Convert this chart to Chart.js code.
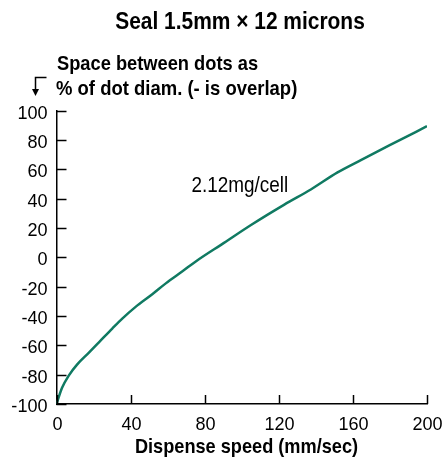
<!DOCTYPE html>
<html>
<head>
<meta charset="utf-8">
<script src="https://cdn.jsdelivr.net/npm/chart.js@4"></script>
<style>
html,body{margin:0;padding:0;background:#fff;}
#wrap{width:442px;height:462px;position:relative;}
</style>
</head>
<body>
<div id="wrap"><canvas id="c" width="442" height="462"></canvas></div>
<script>
const titleText = "Seal 1.5mm \u00d7 12 microns";
const yTitleLines = ["Space between dots as", "% of dot diam. (- is overlap)"];
const xTitleText = "Dispense speed (mm/sec)";
const seriesLabel = "2.12mg/cell";
const xTickValues = [0, 40, 80, 120, 160, 200];
const yTickValues = [-100, -80, -60, -40, -20, 0, 20, 40, 60, 80, 100];
const speeds = [0, 3, 6.7, 11.2, 17.5, 22.9, 30.1, 35.5, 42.7, 51.7, 59, 68, 75, 90.4, 105, 123, 137.3, 151.7, 164.3, 182.3, 200];
const spacing = [-100, -89, -80.5, -73, -65, -58, -48.6, -41.8, -33.8, -25.2, -17.8, -9.6, -3, 9.8, 22, 35.9, 46.2, 57.8, 66.2, 77.9, 89.3];

const FAMILY = '"Liberation Sans", Arial, sans-serif';
const lineColor = 'rgb(16,122,98)';

function txt(ctx, s, x, y, font, sx, align) {
  ctx.save();
  ctx.font = font;
  ctx.textBaseline = 'alphabetic';
  ctx.textAlign = 'left';
  const w = ctx.measureText(s).width * sx;
  let left = x;
  if (align === 'center') left = x - w / 2;
  else if (align === 'right') left = x - w;
  ctx.translate(left, y);
  ctx.scale(sx, 1);
  ctx.fillText(s, 0, 0);
  ctx.restore();
}

const decor = {
  id: 'decor',
  afterDraw(chart) {
    const ctx = chart.ctx;
    const xs = chart.scales.x, ys = chart.scales.y;
    const ca = chart.chartArea;
    ctx.save();
    ctx.strokeStyle = '#000';
    ctx.fillStyle = '#000';
    ctx.lineWidth = 1.5;
    const tickFont = '19px ' + FAMILY;
    yTickValues.forEach(v => {
      const py = Math.round(ys.getPixelForValue(v)) + 0.5;
      ctx.beginPath(); ctx.moveTo(ca.left, py); ctx.lineTo(ca.left + 10, py); ctx.stroke();
      txt(ctx, String(v), ca.left - 9, py + 7, tickFont, 0.95, 'right');
    });
    xTickValues.forEach(v => {
      const px = Math.round(xs.getPixelForValue(v)) + 0.5;
      ctx.beginPath(); ctx.moveTo(px, ca.bottom); ctx.lineTo(px, ca.bottom - 9); ctx.stroke();
      txt(ctx, String(v), px, 430, tickFont, 0.95, 'center');
    });
    txt(ctx, titleText, 240, 29, 'bold 23px ' + FAMILY, 0.91, 'center');
    txt(ctx, yTitleLines[0], 57, 70, 'bold 21px ' + FAMILY, 0.87, 'left');
    txt(ctx, yTitleLines[1], 56, 95, 'bold 21px ' + FAMILY, 0.88, 'left');
    ctx.lineWidth = 1.5;
    ctx.beginPath();
    ctx.moveTo(46.5, 77.5); ctx.lineTo(35.5, 77.5); ctx.lineTo(35.5, 91);
    ctx.stroke();
    ctx.beginPath();
    ctx.moveTo(32, 89); ctx.lineTo(39, 89); ctx.lineTo(35.5, 96); ctx.closePath();
    ctx.fill();
    txt(ctx, xTitleText, 246.5, 453, 'bold 21px ' + FAMILY, 0.865, 'center');
    txt(ctx, seriesLabel, 191.5, 191.5, '22px ' + FAMILY, 0.86, 'left');
    ctx.restore();
  }
};

new Chart(document.getElementById('c'), {
  type: 'line',
  data: {
    datasets: [{
      label: seriesLabel,
      data: speeds.map((s, i) => ({x: s, y: spacing[i]})),
      borderColor: lineColor,
      borderWidth: 2.5,
      pointRadius: 0,
      cubicInterpolationMode: 'monotone',
      fill: false
    }]
  },
  options: {
    responsive: false,
    animation: false,
    devicePixelRatio: 1,
    layout: { padding: { top: 110.5, right: 15, left: 0, bottom: 0 } },
    plugins: { legend: { display: false }, tooltip: { enabled: false }, title: { display: false } },
    scales: {
      x: {
        type: 'linear', min: 0, max: 200,
        afterBuildTicks: s => { s.ticks = xTickValues.map(v => ({value: v})); },
        afterFit: s => { s.height = 58; },
        grid: { display: false, drawTicks: false },
        border: { display: true, color: '#000', width: 1.5 },
        ticks: { display: false }
      },
      y: {
        type: 'linear', min: -100, max: 100,
        afterBuildTicks: s => { s.ticks = yTickValues.map(v => ({value: v})); },
        afterFit: s => { s.width = 56.5; },
        grid: { display: false, drawTicks: false },
        border: { display: true, color: '#000', width: 1.5 },
        ticks: { display: false }
      }
    }
  },
  plugins: [decor]
});
</script>
</body>
</html>
